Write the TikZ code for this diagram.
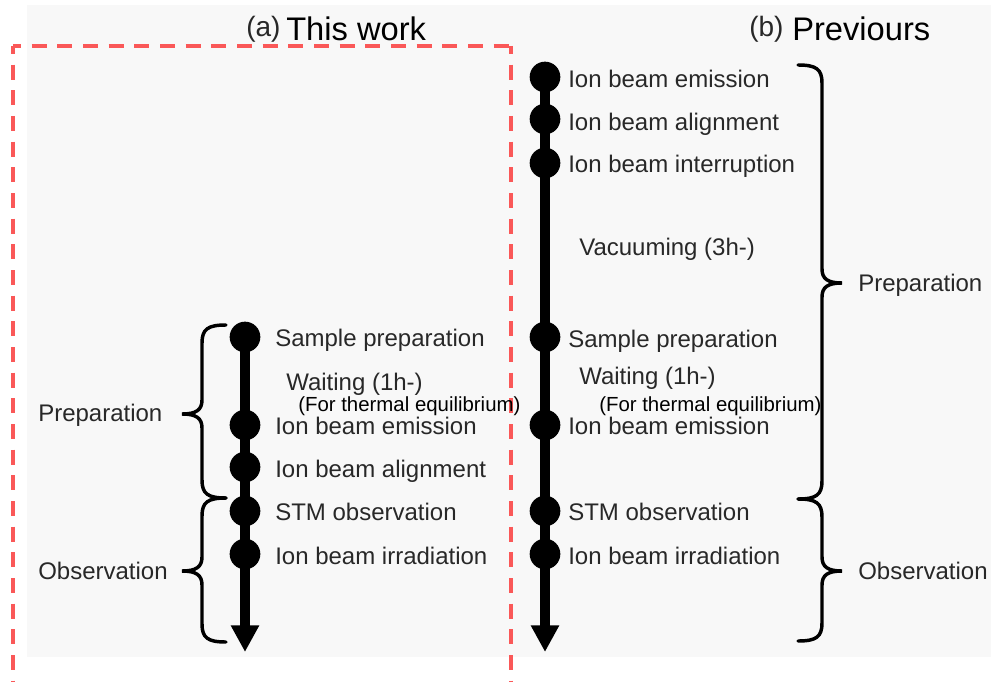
\documentclass[tikz,border=0pt]{standalone}
\usepackage{fontspec}
\setmainfont{Liberation Sans}
\usetikzlibrary{arrows.meta}
\definecolor{bgfill}{RGB}{248,248,248}
\definecolor{dashred}{RGB}{250,88,88}
\definecolor{txtgray}{RGB}{40,40,40}
% #1 spine x, #2 direction (+1: tip to the left, -1: tip to the right), #3 top y, #4 tip y, #5 bottom y
\newcommand{\curlybr}[5]{%
  \draw[bracestyle] (#1+#2*24,#3) .. controls (#1+#2*6,#3) and (#1,#3+4) .. (#1,#3+18)
    -- (#1,#4-14) .. controls (#1,#4-4) and (#1-#2*6,#4) .. (#1-#2*20,#4)
    .. controls (#1-#2*6,#4) and (#1,#4+4) .. (#1,#4+14)
    -- (#1,#5-18) .. controls (#1,#5-4) and (#1+#2*6,#5) .. (#1+#2*24,#5);}
\begin{document}
\begin{tikzpicture}[x=0.75pt,y=-0.75pt,
  bracestyle/.style={line width=2.6pt, black, line cap=round},
  dot/.style={circle, fill=black, inner sep=0pt, minimum size=23pt},
  flow/.style={line width=6.8pt, -{Triangle[width=20pt,length=20pt]}},
  frame/.style={dashred, line width=3pt, dash pattern=on 11.25pt off 8pt, dash phase=5.25pt},
  lab/.style={anchor=west, inner sep=0pt, text height=12pt, text depth=1pt, font=\fontsize{18}{20}\selectfont, text=txtgray},
  note/.style={anchor=west, inner sep=0pt, text height=10.5pt, text depth=1pt, font=\fontsize{15.3}{17}\selectfont, text=black},
  ttl/.style={anchor=west, inner sep=0pt, font=\fontsize{24.5}{28}\selectfont, text=black},
  ttlp/.style={anchor=west, inner sep=0pt, font=\fontsize{21}{24}\selectfont, text=txtgray}]
\useasboundingbox (0,0) rectangle (991,681);
\fill[white] (0,0) rectangle (991,681);
\fill[bgfill] (27,5) rectangle (991,657);

% dashed frame
\coordinate (ftl) at (13,46);
\coordinate (ftr) at (510.5,46);
\coordinate (fbl) at (13,695);
\coordinate (fbr) at (510.5,695);
\draw[frame] (ftl) -- (fbl);
\draw[frame] (ftl) -- (ftr);
\draw[frame] (ftr) -- (fbr);

% titles
\node[ttlp] (ta) at (246,29) {(a)};
\node[ttl] (tat) at (286,29) {This work};
\node[ttlp] (tb) at (749,29) {(b)};
\node[ttl] (tbt) at (792,29) {Previours};

% (a) timeline
\node[dot] (a1) at (245,337) {};
\node[dot] (a2) at (245,425) {};
\node[dot] (a3) at (245,467) {};
\node[dot] (a4) at (245,511) {};
\node[dot] (a5) at (245,554) {};
\coordinate (aend) at (245,652);
\draw[flow] (a1.center) -- (aend);

\node[lab] (la1) at (275,339) {Sample preparation};
\node[lab] (law) at (286,383) {Waiting (1h-)};
\node[note] (lan) at (298,405) {(For thermal equilibrium)};
\node[lab] (la2) at (275,427) {Ion beam emission};
\node[lab] (la3) at (275,470) {Ion beam alignment};
\node[lab] (la4) at (275,513) {STM observation};
\node[lab] (la5) at (275,557) {Ion beam irradiation};

\curlybr{202}{1}{325}{414}{498}
\curlybr{202}{1}{498}{571}{642}
\node[lab] (lap) at (38,414) {Preparation};
\node[lab] (lao) at (38,572) {Observation};

% (b) timeline
\node[dot] (b1) at (545,77) {};
\node[dot] (b2) at (545,119) {};
\node[dot] (b3) at (545,163) {};
\node[dot] (b4) at (545,337) {};
\node[dot] (b5) at (545,425) {};
\node[dot] (b6) at (545,511) {};
\node[dot] (b7) at (545,554) {};
\coordinate (bend) at (545,652);
\draw[flow] (b1.center) -- (bend);

\node[lab] (lb1) at (568,80) {Ion beam emission};
\node[lab] (lb2) at (568,123) {Ion beam alignment};
\node[lab] (lb3) at (568,165) {Ion beam interruption};
\node[lab] (lbv) at (579,248) {Vacuuming (3h-)};
\node[lab] (lb4) at (568,340) {Sample preparation};
\node[lab] (lbw) at (579,377) {Waiting (1h-)};
\node[note] (lbn) at (599,405) {(For thermal equilibrium)};
\node[lab] (lb5) at (568,427) {Ion beam emission};
\node[lab] (lb6) at (568,513) {STM observation};
\node[lab] (lb7) at (568,557) {Ion beam irradiation};

\curlybr{822}{-1}{65}{283}{499}
\curlybr{822}{-1}{499}{571}{641}
\node[lab] (lbp) at (858,284) {Preparation};
\node[lab] (lbo) at (858,572) {Observation};
\end{tikzpicture}
\end{document}
